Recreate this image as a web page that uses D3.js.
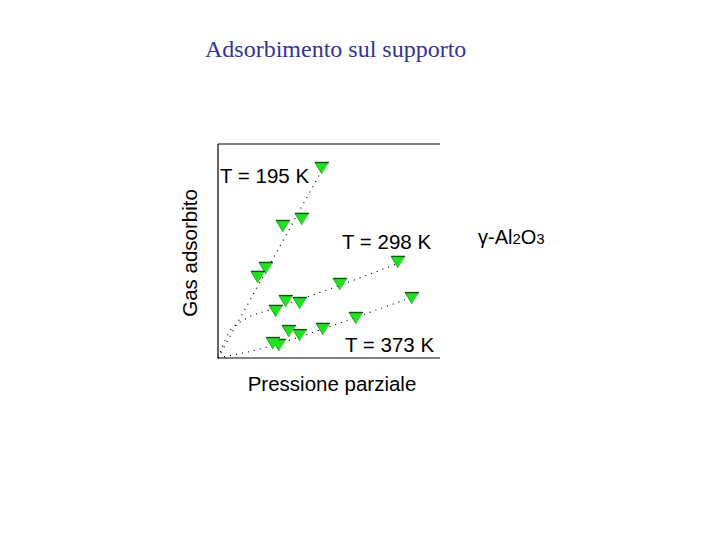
<!DOCTYPE html>
<html>
<head>
<meta charset="utf-8">
<script src="https://cdn.jsdelivr.net/npm/d3@7/dist/d3.min.js"></script>
<style>
html,body{margin:0;padding:0;background:#fff;}
svg{display:block;}
</style>
</head>
<body>
<svg id="chart" width="720" height="540"></svg>
<script>
// ---- data (plot coords 0..100 on both axes) ----
const seriesNames = ["T = 195 K", "T = 298 K", "T = 373 K"];
const pts195 = [[46.8, 88.8], [37.8, 65.0], [29.3, 61.7], [21.6, 42.1], [18.0, 37.9]];
const pts298 = [[81.1, 44.9], [55.0, 34.6], [36.9, 25.7], [30.6, 26.6], [26.1, 22.0]];
const pts373 = [[87.4, 28.0], [62.2, 18.7], [47.3, 13.6], [36.9, 10.7], [32.0, 12.6], [27.5, 6.1], [24.8, 7.0]];
const fit195 = [[0, 0], [47.5, 89]];
const fit298 = [[0, 0], [5, 12], [12, 18], [25, 23], [55, 34], [83, 45]];
const fit373 = [[0, 0], [20, 4.5], [40, 11], [62, 19], [89, 29]];
const xLabel = "Pressione parziale";
const yLabel = "Gas adsorbito";
const title = "Adsorbimento sul supporto";

const svg = d3.select("#chart");
const sans = "'Liberation Sans', Arial, Helvetica, sans-serif";
const serif = "'Liberation Serif', 'Times New Roman', serif";

const x = d3.scaleLinear().domain([0, 100]).range([218, 440]);
const y = d3.scaleLinear().domain([0, 100]).range([358, 144]);

// title
svg.append("text").attr("x", 205).attr("y", 57)
  .attr("font-family", serif).attr("font-size", 24).attr("fill", "#333399")
  .text(title);

// frame (left, bottom, top)
const g = svg.append("g");
g.append("line").attr("x1", x(0)).attr("x2", x(0)).attr("y1", y(100)).attr("y2", y(0))
  .attr("stroke", "#000").attr("stroke-width", 1.2);
g.append("line").attr("x1", x(0)).attr("x2", x(100)).attr("y1", y(0)).attr("y2", y(0))
  .attr("stroke", "#000").attr("stroke-width", 1.2);
g.append("line").attr("x1", x(0)).attr("x2", x(100)).attr("y1", y(100)).attr("y2", y(100))
  .attr("stroke", "#000").attr("stroke-width", 1.2);

// dotted fits
const line = d3.line().x(d => x(d[0])).y(d => y(d[1])).curve(d3.curveMonotoneX);
[fit195, fit298, fit373].forEach(f => {
  g.append("path").attr("d", line(f)).attr("fill", "none")
    .attr("stroke", "#000").attr("stroke-width", 1.1)
    .attr("stroke-dasharray", "1.1,5");
});

// markers: downward triangles
const tri = "M-7,-5.5 L7,-5.5 L0,6 Z";
[pts195, pts298, pts373].forEach(pts => {
  const m = g.append("g").selectAll("g").data(pts).join("g")
    .attr("transform", d => `translate(${x(d[0])},${y(d[1])})`);
  m.append("path").attr("d", tri).attr("fill", "#22e022");
  m.append("path").attr("d", "M-7,-5.5 L7,-5.5").attr("stroke", "#145214").attr("stroke-width", 1.4);
  m.append("path").attr("d", "M-7,-5.5 L0,6").attr("stroke", "#1c8a1c").attr("stroke-width", 0.8);
});

// series labels
const labelPos = [[220, 183], [342, 249], [345, 352]];
seriesNames.forEach((s, i) => {
  svg.append("text").attr("x", labelPos[i][0]).attr("y", labelPos[i][1])
    .attr("font-family", sans).attr("font-size", 20.5).attr("fill", "#000").text(s);
});

// axis labels
svg.append("text").attr("x", 332).attr("y", 391).attr("text-anchor", "middle")
  .attr("font-family", sans).attr("font-size", 20.5).attr("fill", "#000").text(xLabel);
svg.append("text").attr("transform", "translate(197,253) rotate(-90)").attr("text-anchor", "middle")
  .attr("font-family", sans).attr("font-size", 20.5).attr("fill", "#000").text(yLabel);

// legend-ish label
const lg = svg.append("text").attr("x", 478).attr("y", 244)
  .attr("font-family", sans).attr("font-size", 20).attr("fill", "#000");
lg.append("tspan").text("γ-Al");
lg.append("tspan").attr("font-size", 15).text("2");
lg.append("tspan").text("O");
lg.append("tspan").attr("font-size", 15).text("3");
</script>
</body>
</html>
